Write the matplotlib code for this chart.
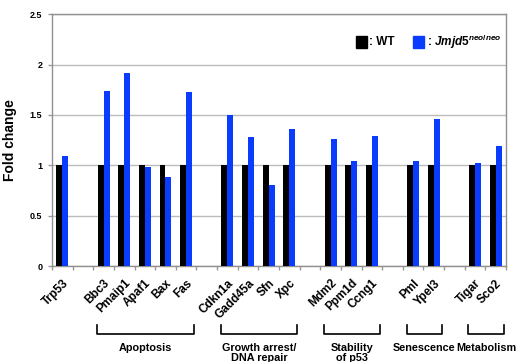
import matplotlib
matplotlib.use("Agg")
import matplotlib.pyplot as plt
from matplotlib.patches import Rectangle

plt.rcParams['font.family'] = ['Liberation Sans', 'DejaVu Sans']
plt.rcParams['mathtext.fontset'] = 'custom'
plt.rcParams['mathtext.it'] = 'Liberation Sans:italic:bold'
plt.rcParams['mathtext.rm'] = 'Liberation Sans:bold'

# Genes grouped by p53 target function
groups = [
    ("", ["Trp53"]),
    ("Apoptosis", ["Bbc3", "Pmaip1", "Apaf1", "Bax", "Fas"]),
    ("Growth arrest/\nDNA repair", ["Cdkn1a", "Gadd45a", "Sfn", "Xpc"]),
    ("Stability\nof p53", ["Mdm2", "Ppm1d", "Ccng1"]),
    ("Senescence", ["Pml", "Ypel3"]),
    ("Metabolism", ["Tigar", "Sco2"]),
]
wt_values = [1, 1, 1, 1, 1, 1, 1, 1, 1, 1, 1, 1, 1, 1, 1, 1, 1]
mut_values = [1.09, 1.74, 1.92, 0.98, 0.88, 1.73, 1.50, 1.28, 0.80, 1.36,
              1.26, 1.04, 1.29, 1.04, 1.46, 1.02, 1.19]
y_ticks = [0, 0.5, 1, 1.5, 2, 2.5]

# slot positions, one empty slot between groups
positions, names, spans = [], [], []
slot = 0
for gi, (label, genes) in enumerate(groups):
    start = slot
    for g in genes:
        positions.append(slot)
        names.append(g)
        slot += 1
    spans.append((label, start, slot - 1))
    slot += 1
n_slots = slot - 1

fig = plt.figure(figsize=(5.21, 3.62), dpi=100)
ax = fig.add_axes([0.0998, 0.265, 0.8714, 0.696])

bw = 0.29
ax.bar([p - bw / 2 for p in positions], wt_values, width=bw, color='black', zorder=3)
ax.bar([p + bw / 2 for p in positions], mut_values, width=bw, color='#0a3cff', zorder=3)

ax.set_xlim(-0.5, n_slots - 0.5)
ax.set_ylim(0, 2.5)
ax.set_yticks(y_ticks)
ax.set_yticklabels(["0", "0.5", "1", "1.5", "2", "2.5"], fontsize=6.5, fontweight='bold')
ax.yaxis.grid(True, color='#bcbcbc', lw=1, zorder=0)
ax.set_axisbelow(True)
ax.tick_params(axis='y', length=3, width=1, color='#999999', pad=4)

ax.set_xticks(positions)
ax.set_xticklabels(names, rotation=45, ha='right', va='top', rotation_mode='anchor',
                   fontsize=8.5, fontweight='bold')
ax.tick_params(axis='x', which='major', length=0, pad=8)
ax.set_xticks([i - 0.5 for i in range(n_slots + 1)], minor=True)
ax.tick_params(axis='x', which='minor', length=3, width=1, color='#999999')

for s in ax.spines.values():
    s.set_color('#909090')
    s.set_linewidth(1)

ax.set_ylabel("Fold change", fontsize=10, fontweight='bold')
ax.yaxis.set_label_coords(-0.077, 0.5)

# group brackets below the gene labels
tr = ax.get_xaxis_transform()
for label, a, b in spans:
    if not label:
        continue
    x0, x1 = a - 0.32, b + 0.38
    yb, yt = -0.27, -0.235
    ax.plot([x0, x0, x1, x1], [yt, yb, yb, yt], color='black', lw=1.2,
            transform=tr, clip_on=False)
    ax.text((x0 + x1) / 2, -0.305, label, transform=tr, ha='center', va='top',
            fontsize=7.8, fontweight='bold', linespacing=1.05)

# legend
ax.add_patch(Rectangle((0.669, 0.865), 0.024, 0.048, transform=ax.transAxes,
                       color='black', clip_on=False))
ax.text(0.699, 0.889, ": WT", transform=ax.transAxes, va='center', ha='left',
        fontsize=8.5, fontweight='bold')
ax.add_patch(Rectangle((0.795, 0.865), 0.024, 0.048, transform=ax.transAxes,
                       color='#0a3cff', clip_on=False))
ax.text(0.825, 0.889, r": $Jmjd5^{neo/neo}$", transform=ax.transAxes, va='center',
        ha='left', fontsize=8.5, fontweight='bold')

fig.savefig("out.png", dpi=100)
